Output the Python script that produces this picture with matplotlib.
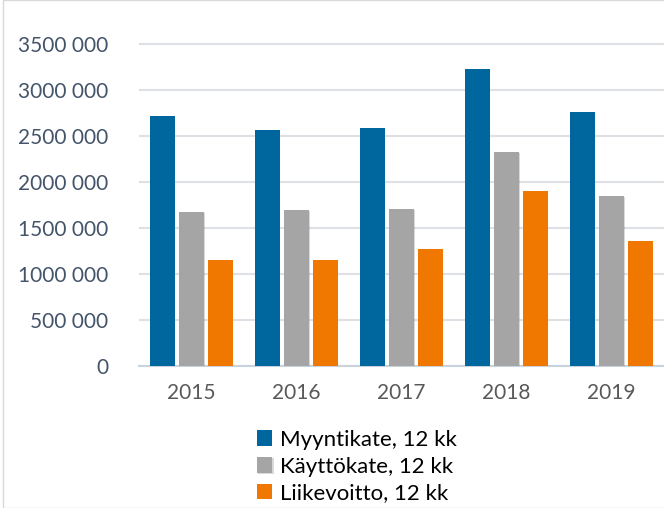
import matplotlib
matplotlib.use("Agg")
import matplotlib.pyplot as plt
import numpy as np
from matplotlib import patheffects as pe
from matplotlib.patches import Rectangle
from matplotlib.ticker import FuncFormatter

years = ["2015", "2016", "2017", "2018", "2019"]
myyntikate = [2720000, 2565000, 2583000, 3228000, 2760000]
kayttokate = [1670000, 1692000, 1707000, 2323000, 1848000]
liikevoitto = [1149000, 1149000, 1272000, 1902000, 1362000]
series_names = ["Myyntikate, 12 kk", "Käyttökate, 12 kk", "Liikevoitto, 12 kk"]
colors = ["#00669E", "#A5A5A5", "#F07800"]

plt.rcParams['font.family'] = ['Lato', 'DejaVu Sans']

fig = plt.figure(figsize=(6.64, 5.08), dpi=100)
ax = fig.add_axes([139/664, (508-366)/508, 1 - 139/664, (3.55*92)/508])

x = np.arange(len(years))
w = 0.235
off = 0.276
handles = []
for i, (vals, c, name) in enumerate(zip([myyntikate, kayttokate, liikevoitto], colors, series_names)):
    bars = ax.bar(x + (i - 1) * off, vals, width=w, color=c, label=name, zorder=3)
    if i == 1:
        for b in bars:
            b.set_path_effects([pe.SimplePatchShadow(offset=(0.8, -0.8), alpha=0.15, shadow_rgbFace='k'), pe.Normal()])
    handles.append(bars)


def fmt(v, p):
    v = int(round(v))
    if v == 0:
        return "0"
    s = f"{v:,}".replace(",", " ")
    if v >= 1000000:
        s = s.replace(" ", "", 1)
    return s


ax.set_xlim(-0.5, len(years) - 0.5)
ax.set_ylim(0, 3550000)
ax.set_yticks(np.arange(0, 3500001, 500000))
ax.yaxis.set_major_formatter(FuncFormatter(fmt))
ax.set_xticks(x)
ax.set_xticklabels(years)
ax.grid(axis='y', color='#DDE1E6', linewidth=1.5, zorder=0)
for s in ['top', 'right', 'left']:
    ax.spines[s].set_visible(False)
ax.spines['bottom'].set_color('#C8D3DE')
ax.spines['bottom'].set_linewidth(1.5)
ax.tick_params(axis='both', length=0)
ax.tick_params(axis='y', labelsize=15, labelcolor='#44546A', pad=22)
ax.tick_params(axis='x', labelsize=15, labelcolor='#595959', pad=12)

fig.legend(handles=handles, labels=series_names, loc='upper left', bbox_to_anchor=(248/664, 1 - 421/508),
           frameon=False, fontsize=16, handlelength=0.7, handleheight=0.7, handletextpad=0.35,
           labelspacing=0.3, borderaxespad=0)

fig.patches.append(Rectangle((3/664, 0), 1, 1, transform=fig.transFigure, fill=False,
                             edgecolor='#D9D9D9', linewidth=1.0))
fig.savefig("out.png", dpi=100)
